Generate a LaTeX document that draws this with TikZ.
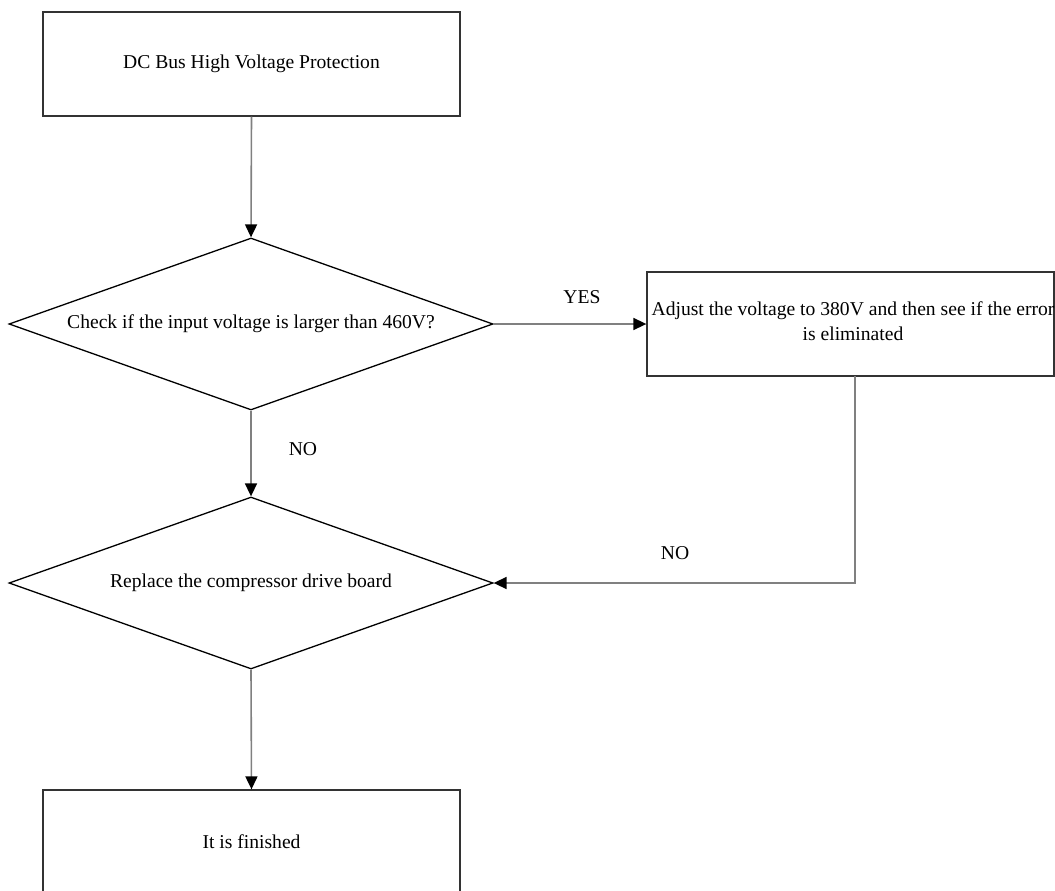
\documentclass[tikz,border=0pt]{standalone}
\usepackage{fontspec}
\setmainfont{Liberation Serif}
\usetikzlibrary{shapes.geometric,arrows.meta}
\begin{document}
\begin{tikzpicture}[x=1pt,y=-1pt,
  every node/.style={font=\fontsize{19.6}{25}\selectfont},
  procbox/.style={draw=black!80,line width=1.3pt,rectangle,inner sep=0pt},
  decide/.style={draw=black,line width=1.3pt,diamond,inner sep=0pt,aspect=2.81,minimum width=484pt,minimum height=172pt},
  conn/.style={draw=black!50,line width=1.6pt,-{Triangle[width=12pt,length=13pt,color=black]}},
  lbl/.style={inner sep=0pt}]
\useasboundingbox (0,0) rectangle (1055,891);
\node[procbox,minimum width=417pt,minimum height=104pt] (b1) at (251.5,64) {DC Bus High Voltage Protection};
\node[decide] (d1) at (251,324) {Check if the input voltage is larger than 460V?};
\node[procbox,minimum width=407pt,minimum height=104pt] (b2) at (850.5,324) {};
\node[lbl,align=center] (t2) at (853,321) {Adjust the voltage to 380V and then see if the error\\is eliminated};
\node[decide] (d2) at (251,583) {Replace the compressor drive board};
\node[procbox,minimum width=417pt,minimum height=103pt] (b3) at (251.5,841.5) {It is finished};
\coordinate (c2) at (855,376);
\node[lbl] (yes) at (582,297) {YES};
\node[lbl] (no1) at (303,449) {NO};
\node[lbl] (no2) at (675,553) {NO};
\draw[conn] (b1.south) -- (d1.north);
\draw[conn] (d1.east) -- (b2.west);
\draw[conn] (d1.south) -- (d2.north);
\draw[conn] (c2) |- (d2.east);
\draw[conn] (d2.south) -- (b3.north);
\end{tikzpicture}
\end{document}
